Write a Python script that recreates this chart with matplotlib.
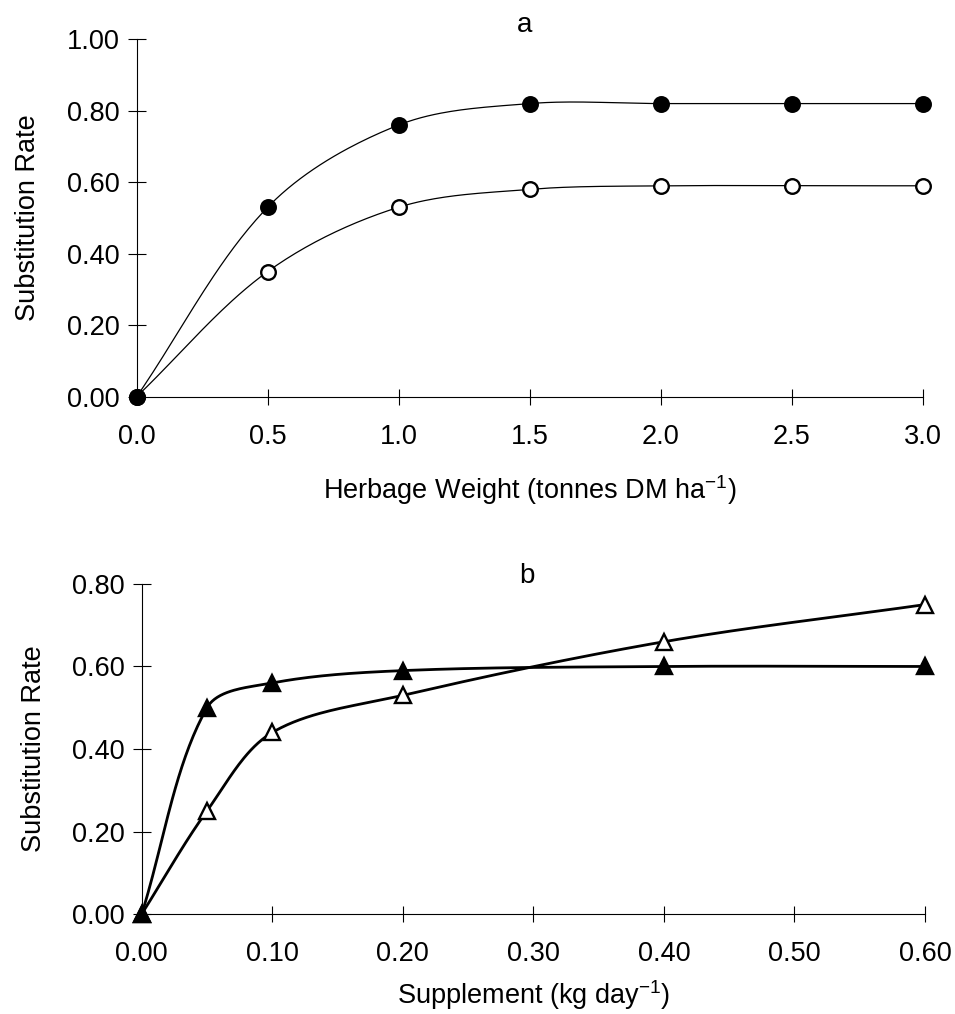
import numpy as np
import matplotlib
matplotlib.use("Agg")
import matplotlib.pyplot as plt

plt.rcParams['font.family'] = ['Liberation Sans', 'DejaVu Sans']

# panel a: herbage weight (tonnes DM/ha) vs substitution rate
herbage = [0.0, 0.5, 1.0, 1.5, 2.0, 2.5, 3.0]
sub_filled = [0.0, 0.53, 0.76, 0.82, 0.82, 0.82, 0.82]
sub_open = [0.0, 0.35, 0.53, 0.58, 0.59, 0.59, 0.59]

# panel b: supplement (kg/day) vs substitution rate
supplement = [0.0, 0.05, 0.10, 0.20, 0.40, 0.60]
sub_tri_filled = [0.0, 0.50, 0.56, 0.59, 0.60, 0.60]
sub_tri_open = [0.0, 0.25, 0.44, 0.53, 0.66, 0.75]

xticks_a = [0.0, 0.5, 1.0, 1.5, 2.0, 2.5, 3.0]
yticks_a = [0.0, 0.2, 0.4, 0.6, 0.8, 1.0]
xticks_b = [0.0, 0.1, 0.2, 0.3, 0.4, 0.5, 0.6]
yticks_b = [0.0, 0.2, 0.4, 0.6, 0.8]

TICK_FS = 19.5
LABEL_FS = 19.5


def smooth(x, y, sx, sy, n=40):
    # smoothed line through the points, chord-weighted bezier (no big overshoot)
    p = np.column_stack([np.asarray(x) * sx, np.asarray(y) * sy])
    d = np.hypot(*np.diff(p, axis=0).T)
    m = np.zeros_like(p)
    m[0] = (p[1] - p[0]) / d[0]
    m[-1] = (p[-1] - p[-2]) / d[-1]
    for i in range(1, len(p) - 1):
        m[i] = (p[i + 1] - p[i - 1]) / (d[i - 1] + d[i])
    out = [p[0]]
    t = np.linspace(0, 1, n)[1:, None]
    for i in range(len(p) - 1):
        c1 = p[i] + m[i] * d[i] / 3.0
        c2 = p[i + 1] - m[i + 1] * d[i] / 3.0
        seg = ((1 - t) ** 3) * p[i] + 3 * ((1 - t) ** 2) * t * c1 \
            + 3 * (1 - t) * t ** 2 * c2 + t ** 3 * p[i + 1]
        out.extend(seg)
    out = np.array(out)
    return out[:, 0] / sx, out[:, 1] / sy


def style_axes(ax, xt, yt, xfmt, yfmt):
    ax.spines['top'].set_visible(False)
    ax.spines['right'].set_visible(False)
    for s in ('left', 'bottom'):
        ax.spines[s].set_linewidth(0.8)
    ax.set_xticks(xt)
    ax.set_yticks(yt)
    ax.set_xticklabels([xfmt.format(v) for v in xt])
    ax.set_yticklabels([yfmt.format(v) for v in yt])
    ax.tick_params(axis='x', direction='inout', length=11, width=0.8,
                   labelsize=TICK_FS, pad=14)
    ax.tick_params(axis='y', direction='inout', length=13, width=0.8,
                   labelsize=TICK_FS, pad=6)


fig = plt.figure(figsize=(9.55, 10.14), dpi=100)

# ---- panel a ----
ax1 = fig.add_axes([0.1431, 0.6088, 0.8231, 0.3525])
ax1.set_xlim(0, 3.0)
ax1.set_ylim(0, 1.0)
for ys, fc in ((sub_open, 'white'), (sub_filled, 'black')):
    sx, sy = smooth(herbage, ys, 786 / 3.0, 357 / 1.0)
    ax1.plot(sx, sy, color='black', lw=0.9, clip_on=False, zorder=2)
    ax1.plot(herbage, ys, 'o', ms=10.5, mfc=fc, mec='black', mew=1.7,
             clip_on=False, zorder=3)
style_axes(ax1, xticks_a, yticks_a, '{:.1f}', '{:.2f}')
ax1.set_ylabel('Substitution Rate', fontsize=LABEL_FS, labelpad=18)
ax1.set_xlabel('Herbage Weight (tonnes DM ha$^{\\mathregular{-1}}$)',
               fontsize=LABEL_FS, labelpad=17)
fig.text(0.549, 0.975, 'a', fontsize=20, ha='center', va='center')

# ---- panel b ----
ax2 = fig.add_axes([0.1484, 0.0986, 0.8202, 0.3255])
ax2.set_xlim(0, 0.6)
ax2.set_ylim(0, 0.8)
for ys, fc in ((sub_tri_open, 'white'), (sub_tri_filled, 'black')):
    sx, sy = smooth(supplement, ys, 783 / 0.6, 330 / 0.8)
    ax2.plot(sx, sy, color='black', lw=2.0, clip_on=False, zorder=2)
    ax2.plot(supplement, ys, '^', ms=11, mfc=fc, mec='black', mew=1.7,
             clip_on=False, zorder=3)
style_axes(ax2, xticks_b, yticks_b, '{:.2f}', '{:.2f}')
ax2.set_ylabel('Substitution Rate', fontsize=LABEL_FS, labelpad=18)
ax2.set_xlabel('Supplement (kg day$^{\\mathregular{-1}}$)', fontsize=LABEL_FS,
               labelpad=8)
fig.text(0.552, 0.432, 'b', fontsize=20, ha='center', va='center')

fig.savefig('out.png', dpi=100, facecolor='white')
